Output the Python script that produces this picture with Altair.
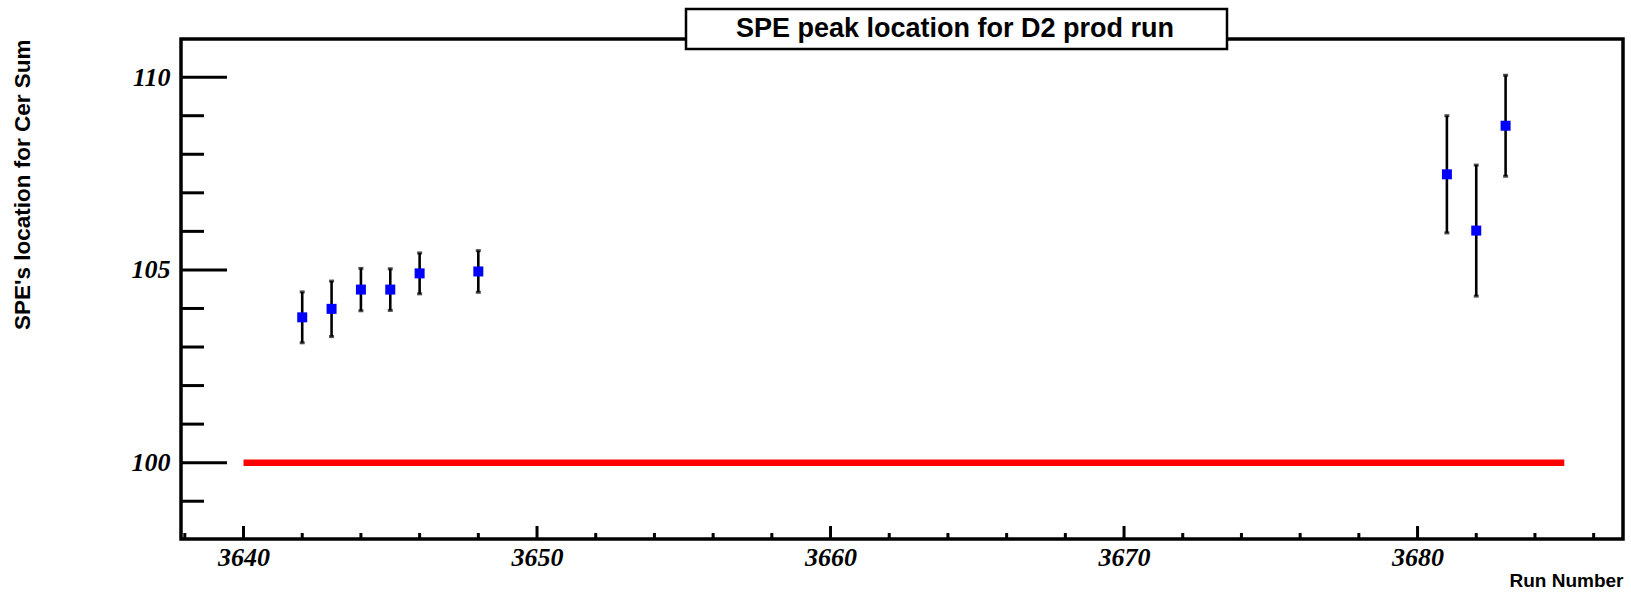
import altair as alt
import pandas as pd

# ---- data ----
runs = [3642, 3643, 3644, 3645, 3646, 3648, 3681, 3682, 3683]
spe_peak = [103.77, 103.99, 104.49, 104.49, 104.91, 104.96, 107.48, 106.02, 108.74]
spe_err = [0.66, 0.72, 0.55, 0.54, 0.53, 0.54, 1.52, 1.70, 1.31]

ref_level = [100]
ref_start = [3640]
ref_end = [3685]

x_major = [3640, 3650, 3660, 3670, 3680]
x_minor = [3638, 3642, 3644, 3646, 3648, 3652, 3654, 3656, 3658, 3662, 3664,
           3666, 3668, 3672, 3674, 3676, 3678, 3682, 3684, 3686]
y_major = [100, 105, 110]
y_minor = [99, 101, 102, 103, 104, 106, 107, 108, 109]

title_text = "SPE peak location for D2 prod run"
x_title = "Run Number"
y_title = "SPE's location for Cer Sum"

X_DOMAIN = [3637.87, 3687.0]
Y_DOMAIN = [98.02, 110.99]
W, H = 1442, 500

pts = pd.DataFrame({
    "run": runs,
    "spe": spe_peak,
    "lo": [v - e for v, e in zip(spe_peak, spe_err)],
    "hi": [v + e for v, e in zip(spe_peak, spe_err)],
})

xs = alt.Scale(domain=X_DOMAIN, nice=False, zero=False)
ys = alt.Scale(domain=Y_DOMAIN, nice=False, zero=False)

label_font = "Liberation Serif"
title_font = "Liberation Sans"

x_axis = alt.Axis(values=x_major, format="d", title=x_title, grid=False, domain=False,
                  ticks=False, tickSize=0, labelFont=label_font, labelFontStyle="italic",
                  labelFontWeight="bold", labelFontSize=26, labelColor="black",
                  labelPadding=5, labelBaseline="top",
                  titleFont=title_font, titleFontWeight="bold", titleFontSize=19,
                  titleColor="black", titleAnchor="end", titleAlign="right",
                  titleBaseline="alphabetic", titleX=W, titleY=47)
y_axis = alt.Axis(values=y_major, format="d", title=y_title, grid=False, domain=False,
                  ticks=False, tickSize=0, labelFont=label_font, labelFontStyle="italic",
                  labelFontWeight="bold", labelFontSize=26, labelColor="black",
                  labelPadding=11,
                  titleFont=title_font, titleFontWeight="bold", titleFontSize=22.5,
                  titleColor="black", titleAngle=270, titleAlign="right",
                  titleBaseline="alphabetic", titleX=-152, titleY=0)

base = alt.Chart(pts)

# invisible layer that carries the axes
axes_layer = base.mark_point(opacity=0).encode(
    x=alt.X("run:Q", scale=xs, axis=x_axis),
    y=alt.Y("spe:Q", scale=ys, axis=y_axis),
)

# reference line at 100
ref_df = pd.DataFrame({"x0": ref_start, "x1": ref_end, "y": ref_level})
ref_line = alt.Chart(ref_df).mark_rule(color="#ff0000", strokeWidth=6.5).encode(
    x=alt.X("x0:Q", scale=xs), x2="x1:Q", y=alt.Y("y:Q", scale=ys)
)

# inward ticks
ymaj = alt.Chart(pd.DataFrame({"v": y_major})).mark_rule(color="black", strokeWidth=3).encode(
    y=alt.Y("v:Q", scale=ys), x=alt.value(0), x2=alt.value(46))
ymin = alt.Chart(pd.DataFrame({"v": y_minor})).mark_rule(color="black", strokeWidth=3).encode(
    y=alt.Y("v:Q", scale=ys), x=alt.value(0), x2=alt.value(23))
xmaj = alt.Chart(pd.DataFrame({"v": x_major})).mark_rule(color="black", strokeWidth=3).encode(
    x=alt.X("v:Q", scale=xs), y=alt.value(H), y2=alt.value(H - 13))
xmin = alt.Chart(pd.DataFrame({"v": x_minor})).mark_rule(color="black", strokeWidth=3).encode(
    x=alt.X("v:Q", scale=xs), y=alt.value(H), y2=alt.value(H - 6))

# error bars
err_rule = base.mark_rule(color="black", strokeWidth=2.6).encode(
    x=alt.X("run:Q", scale=xs), y=alt.Y("lo:Q", scale=ys), y2="hi:Q")
cap_lo = base.mark_tick(color="black", orient="horizontal", size=5, thickness=3).encode(
    x=alt.X("run:Q", scale=xs), y=alt.Y("lo:Q", scale=ys))
cap_hi = base.mark_tick(color="black", orient="horizontal", size=5, thickness=3).encode(
    x=alt.X("run:Q", scale=xs), y=alt.Y("hi:Q", scale=ys))

markers = base.mark_square(color="#0000ff", size=100, opacity=1, filled=True).encode(
    x=alt.X("run:Q", scale=xs), y=alt.Y("spe:Q", scale=ys))

# title box
tdf = pd.DataFrame({"t": [title_text]})
tbox = alt.Chart(tdf).mark_rect(fill="white", stroke="black", strokeWidth=2.5).encode(
    x=alt.value(505), x2=alt.value(1046), y=alt.value(-30), y2=alt.value(10))
ttext = alt.Chart(tdf).mark_text(font=title_font, fontWeight="bold", fontSize=27,
                                 color="black", align="center", baseline="alphabetic").encode(
    x=alt.value(774), y=alt.value(-2.5), text="t:N")

chart = alt.layer(
    axes_layer, ref_line, ymaj, ymin, xmaj, xmin, err_rule, cap_lo, cap_hi, markers, tbox, ttext
).properties(
    width=W, height=H,
    autosize=alt.AutoSizeParams(type="none"),
    padding={"left": 181, "top": 39, "right": 8, "bottom": 54},
    background="white",
).configure_view(stroke="black", strokeWidth=3.5)

chart.save("out.html", embed_options={"renderer": "svg", "actions": False})
